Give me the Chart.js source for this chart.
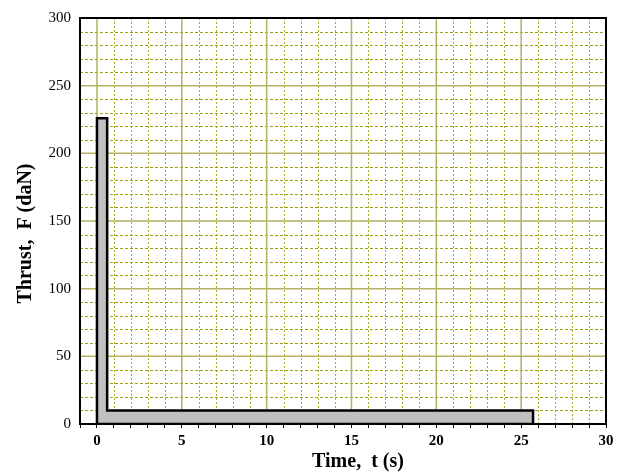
<!DOCTYPE html>
<html>
<head>
<meta charset="utf-8">
<script src="https://cdn.jsdelivr.net/npm/chart.js@4/dist/chart.umd.min.js"></script>
<style>
  html, body { margin: 0; padding: 0; background: #ffffff; }
  #wrap { width: 621px; height: 474px; }
</style>
</head>
<body>
<div id="wrap"><canvas id="c" width="621" height="474"></canvas></div>
<script>
// ---- data ----
const timeS      = [0, 0,   0.6, 0.6, 25.7, 25.7, 0];
const thrustDaN  = [0, 226, 226, 10,  10,   0,    0];
const xTickLabels = [0, 5, 10, 15, 20, 25, 30];
const yTickLabels = [0, 50, 100, 150, 200, 250, 300];
const xTitle = "\u00a0\u00a0\u00a0\u00a0\u00a0\u00a0Time,\u00a0\u00a0t (s)";
const yTitle = "Thrust,\u00a0\u00a0F (daN)\u00a0\u00a0\u00a0\u00a0\u00a0";

const points = timeS.map((t, i) => ({ x: t, y: thrustDaN[i] }));
const serif = "'Liberation Serif', 'Times New Roman', 'DejaVu Serif', serif";

const gridPlugin = {
  id: 'customGrid',
  beforeDatasetsDraw(chart) {
    const { ctx, chartArea: a, scales: { x, y } } = chart;
    ctx.save();
    ctx.beginPath();
    ctx.rect(a.left, a.top, a.right - a.left, a.bottom - a.top);
    ctx.clip();
    // minor vertical (every 1 s)
    ctx.lineWidth = 1;
    ctx.strokeStyle = '#a8a828';
    ctx.setLineDash([2, 2]);
    for (let v = 0; v <= 30; v += 1) {
      if (v % 5 === 0) continue;
      const px = Math.round(x.getPixelForValue(v)) + 0.5;
      ctx.beginPath(); ctx.moveTo(px, a.top); ctx.lineTo(px, a.bottom); ctx.stroke();
    }
    // minor horizontal (every 10 daN)
    ctx.strokeStyle = '#a0a010';
    ctx.setLineDash([3, 2]);
    for (let v = 10; v < 300; v += 10) {
      if (v % 50 === 0) continue;
      const py = Math.round(y.getPixelForValue(v)) + 0.5;
      ctx.beginPath(); ctx.moveTo(a.left, py); ctx.lineTo(a.right, py); ctx.stroke();
    }
    // major lines
    ctx.setLineDash([]);
    ctx.strokeStyle = '#b3b260';
    ctx.lineWidth = 1.5;
    xTickLabels.forEach(v => {
      const px = x.getPixelForValue(v);
      ctx.beginPath(); ctx.moveTo(px, a.top); ctx.lineTo(px, a.bottom); ctx.stroke();
    });
    yTickLabels.forEach(v => {
      const py = y.getPixelForValue(v);
      ctx.beginPath(); ctx.moveTo(a.left, py); ctx.lineTo(a.right, py); ctx.stroke();
    });
    ctx.restore();
  },
  afterDatasetsDraw(chart) {
    const { ctx, chartArea: a } = chart;
    ctx.save();
    ctx.strokeStyle = '#000000';
    ctx.lineWidth = 2;
    ctx.strokeRect(a.left, a.top, a.right - a.left, a.bottom - a.top);
    ctx.restore();
  }
};

new Chart(document.getElementById('c'), {
  type: 'scatter',
  data: {
    datasets: [{
      data: points,
      showLine: true,
      fill: 'shape',
      backgroundColor: '#c0c0c0',
      borderColor: '#000000',
      borderWidth: 2.5,
      borderJoinStyle: 'miter',
      pointRadius: 0,
      pointHoverRadius: 0,
      tension: 0
    }]
  },
  options: {
    responsive: false,
    animation: false,
    devicePixelRatio: 1,
    layout: { padding: { top: 17, right: 15, left: 0, bottom: 0 } },
    plugins: { legend: { display: false }, tooltip: { enabled: false }, filler: { propagate: false } },
    scales: {
      x: {
        type: 'linear',
        min: -1, max: 30,
        afterFit(scale) { scale.height = 50; },
        afterBuildTicks(scale) {
          const t = [];
          for (let v = -1; v <= 30; v++) t.push({ value: v });
          scale.ticks = t;
        },
        ticks: {
          autoSkip: false,
          maxRotation: 0,
          padding: 4,
          color: '#000000',
          font: { family: serif, size: 15, weight: 'bold' },
          callback: (v) => xTickLabels.includes(v) ? String(v) : ''
        },
        grid: { drawOnChartArea: false, drawTicks: true, tickLength: 4, tickColor: '#000000', tickWidth: 1 },
        border: { display: false },
        title: {
          display: true, text: xTitle, color: '#000000',
          font: { family: serif, size: 20, weight: 'bold' },
          padding: { top: 0, bottom: 0 }
        }
      },
      y: {
        type: 'linear',
        min: 0, max: 300,
        afterFit(scale) { scale.width = 80; },
        afterBuildTicks(scale) {
          scale.ticks = yTickLabels.map(v => ({ value: v }));
        },
        ticks: {
          autoSkip: false,
          padding: 9,
          color: '#000000',
          font: { family: serif, size: 15 },
          callback: (v) => String(v)
        },
        grid: { drawOnChartArea: false, drawTicks: false },
        border: { display: false },
        title: {
          display: true, text: yTitle, color: '#000000',
          font: { family: serif, size: 20, weight: 'bold' },
          padding: { top: 14, bottom: 0 }
        }
      }
    }
  },
  plugins: [gridPlugin]
});
</script>
</body>
</html>
